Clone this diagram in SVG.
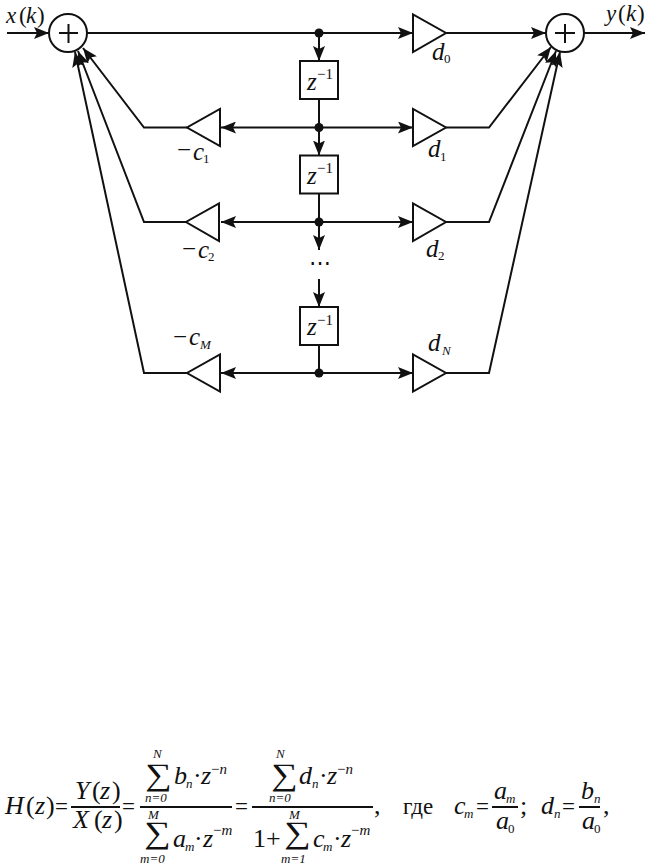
<svg xmlns="http://www.w3.org/2000/svg" width="651" height="866" viewBox="0 0 651 866">
<style>
.l{fill:none;stroke:#111;stroke-width:2;stroke-linecap:butt}
.a{marker-end:url(#ah)}
.n{fill:#fff;stroke:#111;stroke-width:2}
.d{fill:#111}
text{font-family:"Liberation Serif","Times New Roman",serif;fill:#111}
.i{font-style:italic}
.b{font-size:26px}
.m{font-size:25px}
.k{font-size:23px}
.s{font-size:15px}
.t{font-size:13px}
.g{font-size:31px}
</style>
<defs>
<marker id="ah" markerUnits="userSpaceOnUse" markerWidth="16" markerHeight="12" refX="15" refY="6" orient="auto"><path d="M0 0L15 6L0 12L3 6Z" fill="#111"/></marker>
</defs>
<g id="connectors">
<path class="l a" d="M7 33H49"/>
<path class="l" d="M87 33H319"/>
<path class="l a" d="M319 33H413"/>
<path class="l a" d="M446 33H546"/>
<path class="l a" d="M584 33H645"/>
<path class="l a" d="M319 33V61"/>
<path class="l" d="M319 99V127.500"/>
<path class="l a" d="M319 127.500V155.500"/>
<path class="l" d="M319 193.500V222"/>
<path class="l a" d="M319 222V250"/>
<path class="l a" d="M319 279V307"/>
<path class="l" d="M319 345V373"/>
<path class="l a" d="M319 127.500H221"/>
<path class="l a" d="M319 127.500H413"/>
<path class="l a" d="M319 222H221"/>
<path class="l a" d="M319 222H413"/>
<path class="l a" d="M319 373H221"/>
<path class="l a" d="M319 373H413"/>
<path class="l a" d="M187 127.500H144L83 48"/>
<path class="l a" d="M187 222H144L78 51"/>
<path class="l a" d="M187 373H144L75 52"/>
<path class="l a" d="M446 127.500H489L551 47"/>
<path class="l a" d="M446 222H489L556 51"/>
<path class="l a" d="M446 373H489L560 52"/>
</g>
<g id="dots">
<circle class="d" cx="319" cy="33" r="4.500"/>
<circle class="d" cx="319" cy="127.500" r="4.500"/>
<circle class="d" cx="319" cy="222" r="4.500"/>
<circle class="d" cx="319" cy="373" r="4.500"/>
</g>
<g id="sum-left"><circle class="n" cx="68" cy="33" r="19"/><path class="l" d="M59 33H78M68.500 24V43"/></g>
<g id="sum-right"><circle class="n" cx="565" cy="33" r="19"/><path class="l" d="M555 33H575M565 24V43"/></g>
<g id="delay-1"><rect class="n" x="300" y="61" width="38" height="38"/><text class="i m" x="307" y="90">z</text><text class="s" x="317" y="79">−1</text></g>
<g id="delay-2"><rect class="n" x="300" y="155.500" width="38" height="38"/><text class="i m" x="307" y="184">z</text><text class="s" x="317" y="173">−1</text></g>
<g id="delay-3"><rect class="n" x="300" y="307" width="38" height="38"/><text class="i m" x="307" y="335">z</text><text class="s" x="317" y="325">−1</text></g>
<g id="gain-d0"><path class="n" d="M413 14.500V52L446 33Z"/><text class="i m" x="432" y="60">d</text><text class="t" x="444" y="63">0</text></g>
<g id="gain-d1"><path class="n" d="M413 109V146L446 127.500Z"/><text class="i m" x="428" y="157">d</text><text class="t" x="440" y="161">1</text></g>
<g id="gain-d2"><path class="n" d="M413 203.500V241L446 222Z"/><text class="i m" x="426" y="257">d</text><text class="t" x="438" y="260">2</text></g>
<g id="gain-dN"><path class="n" d="M413 354.500V391.500L446 373Z"/><text class="i m" x="428" y="351">d</text><text class="i t" x="442" y="355">N</text></g>
<g id="gain-c1"><path class="n" d="M220 109V146L187 127.500Z"/><text class="m" x="177" y="158">−</text><text class="i m" x="193" y="160">c</text><text class="t" x="203" y="163">1</text></g>
<g id="gain-c2"><path class="n" d="M219 203.500V241L186 222Z"/><text class="m" x="182" y="257">−</text><text class="i m" x="198" y="258">c</text><text class="t" x="208" y="261">2</text></g>
<g id="gain-cM"><path class="n" d="M220 354.500V391.500L187 373Z"/><text class="m" x="173" y="345">−</text><text class="i m" x="189" y="345">c</text><text class="i t" x="200" y="349">M</text></g>
<g id="input"><text class="i k" x="6" y="23">x</text><text class="k" x="19" y="23">(</text><text class="i k" x="26" y="23">k</text><text class="k" x="37" y="23">)</text></g>
<g id="output"><text class="i k" x="606" y="21">y</text><text class="k" x="618" y="21">(</text><text class="i k" x="626" y="21">k</text><text class="k" x="637" y="21">)</text></g>
<g id="ellipsis"><text style="font-size:22px" x="309" y="270">⋯</text></g>
<g id="formula">
<text class="i b" x="5" y="814">H</text><text class="b" x="26" y="814">(</text><text class="i b" x="35" y="814">z</text><text class="b" x="46" y="814">)</text><text class="k" x="55" y="814">=</text>
<path class="l" d="M71 807H120M140 807H232M252 807H373M492 807H518M579 807H600"/>
<text class="i b" x="75" y="799">Y</text><text class="b" x="92" y="799">(</text><text class="i b" x="100" y="799">z</text><text class="b" x="112" y="799">)</text>
<text class="i b" x="73" y="828">X</text><text class="b" x="94" y="828">(</text><text class="i b" x="102" y="828">z</text><text class="b" x="114" y="828">)</text>
<text class="k" x="122" y="814">=</text>
<text class="i t" x="153" y="758">N</text><text class="g" transform="translate(145 785) scale(1.2 1)">∑</text><text class="i t" x="145" y="802">n=0</text>
<text class="i b" x="174" y="784">b</text><text class="i t" x="186" y="788">n</text><text class="b" x="193" y="784">·</text><text class="i b" x="201" y="784">z</text><text class="s" x="211" y="774">−<tspan class="i">n</tspan></text>
<text class="i t" x="148" y="819">M</text><text class="g" transform="translate(144 843) scale(1.2 1)">∑</text><text class="i t" x="140" y="863">m=0</text>
<text class="i b" x="173" y="847">a</text><text class="i t" x="185" y="851">m</text><text class="b" x="194" y="847">·</text><text class="i b" x="203" y="847">z</text><text class="s" x="213" y="835">−<tspan class="i">m</tspan></text>
<text class="k" x="235" y="814">=</text>
<text class="i t" x="276" y="758">N</text><text class="g" transform="translate(271 785) scale(1.2 1)">∑</text><text class="i t" x="269" y="802">n=0</text>
<text class="i b" x="299" y="784">d</text><text class="i t" x="312" y="788">n</text><text class="b" x="319" y="784">·</text><text class="i b" x="327" y="784">z</text><text class="s" x="337" y="774">−<tspan class="i">n</tspan></text>
<text class="b" x="253" y="847">1+</text>
<text class="i t" x="289" y="819">M</text><text class="g" transform="translate(284 843) scale(1.2 1)">∑</text><text class="i t" x="281" y="863">m=1</text>
<text class="i b" x="313" y="847">c</text><text class="i t" x="323" y="851">m</text><text class="b" x="333" y="847">·</text><text class="i b" x="341" y="847">z</text><text class="s" x="351" y="835">−<tspan class="i">m</tspan></text>
<text class="b" x="374" y="814">,</text>
<text class="k" x="403" y="814">где</text>
<text class="i b" x="454" y="814">c</text><text class="i t" x="464" y="818">m</text><text class="k" x="476" y="814">=</text>
<text class="i b" x="494" y="799">a</text><text class="i t" x="506" y="803">m</text>
<text class="i b" x="496" y="829">a</text><text class="t" x="508" y="833">0</text>
<text class="b" x="520" y="814">;</text>
<text class="i b" x="541" y="814">d</text><text class="i t" x="554" y="818">n</text><text class="k" x="562" y="814">=</text>
<text class="i b" x="581" y="799">b</text><text class="i t" x="594" y="803">n</text>
<text class="i b" x="582" y="829">a</text><text class="t" x="594" y="833">0</text>
<text class="b" x="603" y="814">,</text>
</g>
</svg>
